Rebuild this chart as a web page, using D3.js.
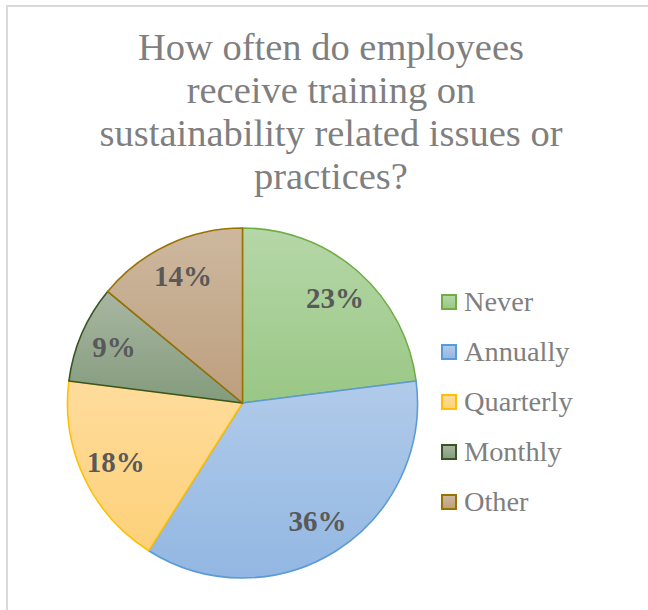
<!DOCTYPE html>
<html>
<head>
<meta charset="utf-8">
<script src="https://cdn.jsdelivr.net/npm/d3@7"></script>
<style>
  html, body { margin: 0; padding: 0; background: #fff; }
  svg { display: block; }
</style>
</head>
<body>
<svg id="chart" width="648" height="610"></svg>
<script>
// Survey answers and their shares (percent)
const categories = ["Never", "Annually", "Quarterly", "Monthly", "Other"];
const values = [23, 36, 18, 9, 14];
const titleLines = ["How often do employees", "receive training on", "sustainability related issues or", "practices?"];

// Gradient stops (top, bottom) and outline per slice
const fillTop = ["#b6d7a8", "#b1cbea", "#ffdc9c", "#a9b6a2", "#cdb89f"];
const fillBottom = ["#99c785", "#92b7e2", "#fdd179", "#839b7c", "#bd9f7e"];
const outline = ["#70ad47", "#5b9bd5", "#ffc000", "#375623", "#997300"];

const svg = d3.select("#chart");
const W = 648, H = 610;
const serif = "'Liberation Serif', 'Times New Roman', serif";

// chart frame
svg.append("rect")
  .attr("x", 7).attr("y", 6)
  .attr("width", W + 20).attr("height", H + 20)
  .attr("fill", "#fff")
  .attr("stroke", "#d9d9d9").attr("stroke-width", 2);

// title
const title = svg.append("text")
  .attr("text-anchor", "middle")
  .attr("font-family", serif)
  .attr("font-size", 38.5)
  .attr("fill", "#7f7f7f");
titleLines.forEach((line, i) => {
  title.append("tspan").attr("x", 331).attr("y", 60 + i * 43).text(line);
});

// gradients
const defs = svg.append("defs");
categories.forEach((c, i) => {
  const g = defs.append("linearGradient")
    .attr("id", "grad" + i)
    .attr("x1", 0).attr("y1", 0).attr("x2", 0).attr("y2", 1);
  g.append("stop").attr("offset", "0%").attr("stop-color", fillTop[i]);
  g.append("stop").attr("offset", "100%").attr("stop-color", fillBottom[i]);
});

// pie
const cx = 242.5, cy = 403, radius = 175;
const data = categories.map((c, i) => ({ name: c, value: values[i], i }));
const pie = d3.pie().value(d => d.value).sort(null);
const arc = d3.arc().innerRadius(0).outerRadius(radius);
const labelArc = d3.arc().innerRadius(radius * 0.8).outerRadius(radius * 0.8);

const gPie = svg.append("g").attr("transform", `translate(${cx},${cy})`);
const arcs = pie(data);

gPie.selectAll("path.slice")
  .data(arcs)
  .join("path")
  .attr("class", "slice")
  .attr("d", arc)
  .attr("fill", d => `url(#grad${d.data.i})`)
  .attr("stroke", d => outline[d.data.i])
  .attr("stroke-width", 1.6)
  .attr("stroke-linejoin", "round");

const total = d3.sum(values);
gPie.selectAll("text.label")
  .data(arcs)
  .join("text")
  .attr("class", "label")
  .attr("transform", d => `translate(${labelArc.centroid(d)})`)
  .attr("text-anchor", "middle")
  .attr("dy", "0.34em")
  .attr("font-family", serif)
  .attr("font-weight", "bold")
  .attr("font-size", 29)
  .attr("fill", "#595959")
  .text(d => Math.round(d.data.value / total * 100) + "%");

// legend
const legend = svg.append("g").attr("transform", "translate(442,302)");
const item = legend.selectAll("g")
  .data(data)
  .join("g")
  .attr("transform", (d, i) => `translate(0,${i * 50})`);
item.append("rect")
  .attr("x", 0).attr("y", -7)
  .attr("width", 14).attr("height", 14)
  .attr("fill", d => `url(#grad${d.i})`)
  .attr("stroke", d => outline[d.i])
  .attr("stroke-width", 2);
item.append("text")
  .attr("transform", "translate(22,0) scale(1.05,1)")
  .attr("dy", "0.34em")
  .attr("font-family", serif)
  .attr("font-size", 27)
  .attr("fill", "#7f7f7f")
  .text(d => d.name);
</script>
</body>
</html>
